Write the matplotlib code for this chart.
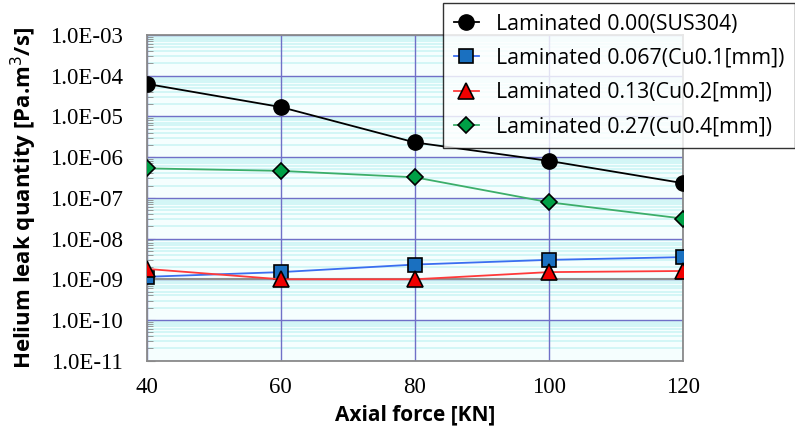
import numpy as np
import matplotlib
matplotlib.use("Agg")
import matplotlib.pyplot as plt
from matplotlib.ticker import LogLocator, FixedLocator, NullFormatter

force = [40, 60, 80, 100, 120]
sus304 = [6.3e-5, 1.7e-5, 2.3e-6, 8.1e-7, 2.3e-7]
cu01 = [1.15e-9, 1.5e-9, 2.3e-9, 3.0e-9, 3.5e-9]
cu02 = [1.8e-9, 1.0e-9, 1.0e-9, 1.5e-9, 1.6e-9]
cu04 = [5.3e-7, 4.6e-7, 3.2e-7, 7.8e-8, 3.1e-8]
labels = ["Laminated 0.00(SUS304)", "Laminated 0.067(Cu0.1[mm])",
          "Laminated 0.13(Cu0.2[mm])", "Laminated 0.27(Cu0.4[mm])"]
ytick_labels = ["1.0E-11", "1.0E-10", "1.0E-09", "1.0E-08", "1.0E-07",
                "1.0E-06", "1.0E-05", "1.0E-04", "1.0E-03"]

fig = plt.figure(figsize=(7.95, 4.32), dpi=100)
ax = fig.add_axes([0.1845, 0.165, 0.859 - 0.1845, 0.919 - 0.165])
ax.set_facecolor("#f5fefe")

ax.set_yscale("log")
ax.set_ylim(1e-11, 1e-3)
ax.set_xlim(40, 120)

ax.yaxis.set_major_locator(FixedLocator([10.0 ** e for e in range(-11, -2)]))
ax.yaxis.set_minor_locator(LogLocator(base=10, subs=np.arange(2, 10)))
ax.yaxis.set_minor_formatter(NullFormatter())
ax.set_yticklabels(ytick_labels)
ax.set_xticks(force)

# gridlines: dense light-cyan minors, blue majors drawn on top of them
ax.set_axisbelow(True)
ax.grid(True, which="minor", axis="y", color="#d0f6f6", linewidth=1.3)
for yv in ax.get_yticks():
    ax.axhline(yv, color="#7070c8", linewidth=1.0, zorder=1)
for xv in force:
    ax.axvline(xv, color="#7070c8", linewidth=1.0, zorder=1)
ax.axhline(1e-9, color="#909090", linewidth=1.5, zorder=1.5)

for s in ax.spines.values():
    s.set_color("#8a8a8a")
    s.set_linewidth(1.3)
    s.set_zorder(2)

ax.tick_params(axis="x", length=0, pad=12)
ax.tick_params(axis="y", which="major", direction="in", length=6, color="#8a8a8a", pad=17)
ax.tick_params(axis="y", which="minor", direction="in", length=4, color="#8a8a8a")
for t in ax.get_xticklabels() + ax.get_yticklabels():
    t.set_fontfamily("Liberation Serif")
    t.set_fontsize(16.5)

h1, = ax.plot(force, sus304, color="black", lw=1.3, marker="o", ms=11,
              mfc="black", mec="black", zorder=5)
h2, = ax.plot(force, cu01, color="#3a6ef0", lw=1.3, marker="s", ms=10,
              mfc="#1a70c0", mec="black", mew=1.2, zorder=5)
h3, = ax.plot(force, cu02, color="#ff3a3a", lw=1.3, marker="^", ms=11,
              mfc="#f00000", mec="black", mew=1.2, zorder=5)
h4, = ax.plot(force, cu04, color="#3cae6a", lw=1.3, marker="D", ms=8,
              mfc="#00a046", mec="black", mew=1.2, zorder=5)

ax.set_xlabel("Axial force [KN]", fontsize=15, fontweight="bold",
              fontfamily="Open Sans", labelpad=4)
ax.set_ylabel("Helium leak quantity [Pa.m$^3$/s]", fontsize=16, fontweight="bold",
              fontfamily="Open Sans", labelpad=8)

leg = fig.legend([h1, h2, h3, h4], labels, loc="upper right",
                 bbox_to_anchor=(1.0, 0.993), borderaxespad=0,
                 prop={"family": "Open Sans", "size": 15.3},
                 frameon=True, fancybox=False, handlelength=1.2,
                 labelspacing=0.62, borderpad=0.5, handletextpad=0.8)
leg.get_frame().set_edgecolor("black")
leg.get_frame().set_linewidth(1.0)
leg.set_zorder(10)

fig.savefig("out.png", dpi=100)
